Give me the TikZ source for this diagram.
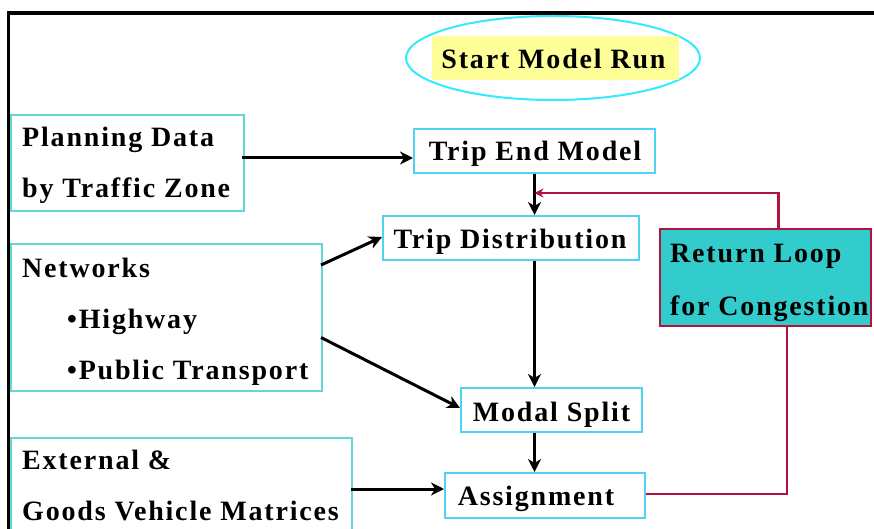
\documentclass[tikz,border=0pt]{standalone}
\usepackage{fontspec}
\setmainfont{Liberation Serif}[LetterSpace=6.5]
\usetikzlibrary{arrows.meta,shapes.geometric,calc}
\definecolor{boxblue}{RGB}{80,210,245}
\definecolor{boxteal}{RGB}{100,214,214}
\definecolor{loopred}{RGB}{176,20,60}
\definecolor{tealfill}{RGB}{51,204,204}
\definecolor{hiyellow}{RGB}{255,255,153}
\definecolor{ellcyan}{RGB}{51,234,255}
\begin{document}
\begin{tikzpicture}[x=1pt,y=-1pt, font=\fontsize{28}{52}\selectfont\bfseries,
  txt/.style={inner sep=0pt, anchor=base west},
  ctxt/.style={inner sep=0pt, anchor=base},
  inbox/.style={draw=boxteal, line width=2pt, inner sep=0pt},
  stepbox/.style={draw=boxblue, line width=2pt, inner sep=0pt},
  arr/.style={line width=3pt, -{Stealth[length=13pt,width=13pt,inset=4pt]}},
  loopline/.style={draw=loopred, line width=2.8pt}]
\useasboundingbox (0,0) rectangle (874,529);
\fill[white] (0,0) rectangle (874,529);
\draw[line width=3.2pt] (8.5,540) -- (8.5,13) -- (880,13);

% start
\node[draw=ellcyan, line width=2pt, ellipse, minimum width=294pt, minimum height=84pt, inner sep=0pt] (startel) at (553,58) {};
\node[fill=hiyellow, minimum width=247pt, minimum height=44pt, inner sep=0pt] (starthl) at (555.5,58) {};
\node[ctxt] (start) at (553.5,69) {Start Model Run};

% input boxes
\node[inbox, minimum width=233pt, minimum height=96pt] (plan) at (127.5,163) {};
\node[txt] (plan1) at (22,147) {Planning Data};
\node[txt] (plan2) at (22,198) {by Traffic Zone};

\node[inbox, minimum width=311pt, minimum height=147pt] (net) at (166.5,317.5) {};
\node[txt] (net1) at (22,277) {Networks};
\node[txt] (net2) at (67,328) {\textbullet Highway};
\node[txt] (net3) at (67,379) {\textbullet Public Transport};

\node[inbox, minimum width=341pt, minimum height=110pt] (ext) at (181.5,493) {};
\node[txt] (ext1) at (22,469) {External \&};
\node[txt] (ext2) at (22,520) {Goods Vehicle Matrices};

% model steps
\node[stepbox, minimum width=241pt, minimum height=44pt] (te) at (534.5,151) {};
\node[ctxt] (tet) at (535,161) {Trip End Model};
\node[stepbox, minimum width=256pt, minimum height=44pt] (td) at (511,238) {};
\node[ctxt] (tdt) at (510,248) {Trip Distribution};
\node[stepbox, minimum width=181pt, minimum height=44pt] (ms) at (551.5,410) {};
\node[ctxt] (mst) at (551.5,421) {Modal Split};
\node[stepbox, minimum width=200pt, minimum height=45pt] (asg) at (545,495.5) {};
\node[ctxt] (asgt) at (536,505) {Assignment};

% return loop
\node[draw=loopred, fill=tealfill, line width=2pt, minimum width=211pt, minimum height=97pt, inner sep=0pt] (rl) at (765.5,277.5) {};
\node[txt] (rl1) at (670,262) {Return Loop};
\node[txt] (rl2) at (670,315) {for Congestion};

% connectors
\draw[arr] ($(plan.east)+(-3,-5)$) -- ($(te.west)+(0,7)$);
\draw[arr] ($(net.north east)+(-2,22)$) -- ($(td.west)+(0,-1)$);
\draw[arr] ($(net.east)+(-2,20)$) -- ($(ms.west)+(0,-2)$);
\draw[arr] ($(ext.east)+(-2,-4)$) -- ($(asg.west)+(0,-6.5)$);
\draw[arr] (te.south) -- (te.south |- td.north);
\draw[arr] (te.south |- td.south) -- (te.south |- ms.north);
\draw[arr] (te.south |- ms.south) -- (te.south |- asg.north);
\draw[loopline] ($(asg.east)+(0,-1.5)$) -| ($(rl.south)+(21.5,0)$);
\draw[loopline, -{Stealth[length=9pt,width=9pt]}] ($(rl.north)+(13,0)$) |- ($(te.south)+(0,19)$);
\end{tikzpicture}
\end{document}
